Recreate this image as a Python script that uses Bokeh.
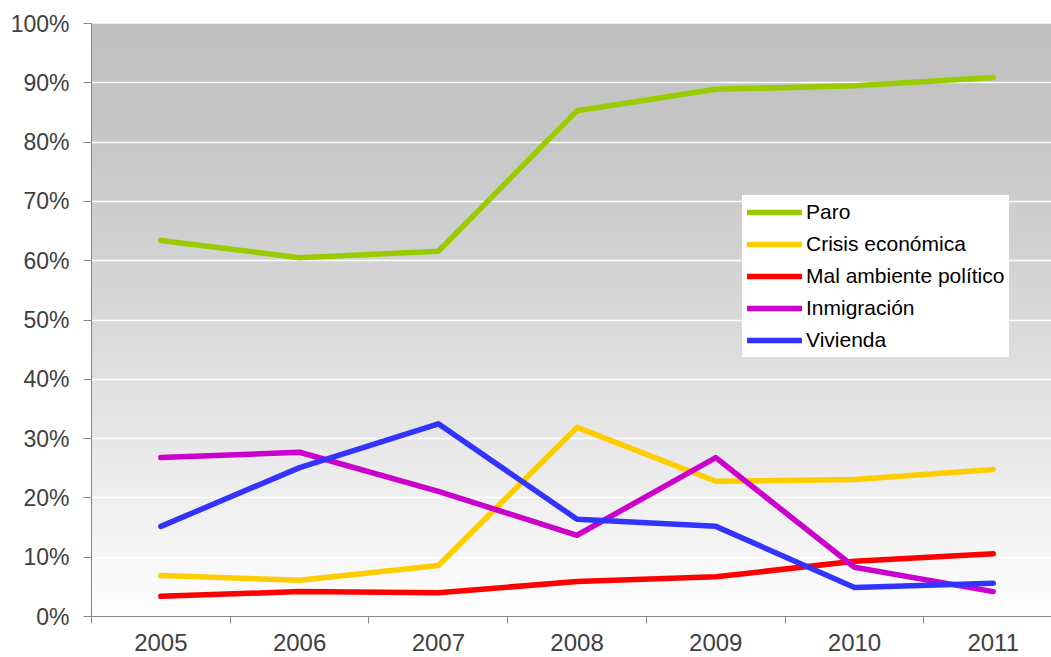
import numpy as np
from bokeh.plotting import figure
from bokeh.models import Range1d, FixedTicker, NumeralTickFormatter, Legend, LegendItem
from bokeh.embed import file_html
from bokeh.resources import INLINE

years = [2005, 2006, 2007, 2008, 2009, 2010, 2011]
paro = [63.4, 60.5, 61.6, 85.3, 88.9, 89.5, 90.9]
crisis = [6.9, 6.1, 8.6, 31.9, 22.8, 23.1, 24.8]
mal_ambiente = [3.4, 4.2, 4.0, 5.9, 6.7, 9.3, 10.6]
inmigracion = [26.8, 27.7, 21.1, 13.7, 26.8, 8.3, 4.2]
vivienda = [15.2, 25.1, 32.5, 16.4, 15.2, 4.9, 5.6]

series_names = ["Paro", "Crisis económica", "Mal ambiente político", "Inmigración", "Vivienda"]
series_values = [paro, crisis, mal_ambiente, inmigracion, vivienda]
series_colors = ["#99cc00", "#ffcc00", "#ff0000", "#cc00cc", "#3333ff"]
y_ticks = [0, 0.1, 0.2, 0.3, 0.4, 0.5, 0.6, 0.7, 0.8, 0.9, 1.0]

FONT = "Liberation Sans"
AX = "#868686"

x0 = years[0] - 0.5
p = figure(width=1051, height=657, output_backend="svg", toolbar_location=None,
           x_range=Range1d(x0, x0 + 6.92), y_range=Range1d(0, 1))
p.min_border_left = 91
p.min_border_right = 0
p.min_border_top = 23
p.min_border_bottom = 41
p.outline_line_color = None
p.background_fill_color = "white"
p.border_fill_color = "white"

# gradient background
N = 600
v = (np.arange(N) + 0.5) / N
t = 1 - v
g = np.clip(192 + 63 * t ** 1.3, 0, 255).astype(np.uint32)
img = np.zeros((N, 1), dtype=np.uint32)
view = img.view(dtype=np.uint8).reshape((N, 1, 4))
view[:, 0, 0] = g
view[:, 0, 1] = g
view[:, 0, 2] = g
view[:, 0, 3] = 255
r_img = p.image_rgba(image=[img], x=x0, y=0, dw=7, dh=1)
r_img.level = "image"

# grid
p.xgrid.visible = False
p.ygrid.ticker = FixedTicker(ticks=y_ticks)
p.ygrid.grid_line_color = "white"
p.ygrid.grid_line_width = 1.5

items = []
for name, vals, col in zip(series_names, series_values, series_colors):
    r = p.line(years, [x / 100 for x in vals], line_color=col, line_width=5.5,
               line_join="round", line_cap="round")
    items.append(LegendItem(label=name, renderers=[r]))

legend = Legend(items=items, location=(651, 259))
legend.background_fill_color = "white"
legend.background_fill_alpha = 1
legend.border_line_color = "white"
legend.border_line_width = 1
legend.label_text_font = FONT
legend.label_text_font_size = "21px"
legend.label_text_color = "black"
legend.glyph_width = 55
legend.glyph_height = 24
legend.label_height = 24
legend.label_standoff = 4
legend.spacing = 8
legend.padding = 4
legend.margin = 0
p.add_layout(legend, "center")

# x axis
xa = p.xaxis[0]
xa.ticker = FixedTicker(ticks=years, minor_ticks=[y - 0.5 for y in years] + [years[-1] + 0.5])
xa.major_tick_out = 0
xa.major_tick_in = 0
xa.minor_tick_out = 7
xa.minor_tick_in = 0
xa.minor_tick_line_color = AX
xa.axis_line_color = AX
xa.major_label_standoff = 10
xa.major_label_text_font = FONT
xa.major_label_text_font_size = "24px"
xa.major_label_text_color = "#404040"
xa.major_label_overrides = {y: str(y) for y in years}

# y axis
ya = p.yaxis[0]
ya.ticker = FixedTicker(ticks=y_ticks)
ya.formatter = NumeralTickFormatter(format="0%")
ya.major_tick_out = 8
ya.major_tick_in = 0
ya.minor_tick_out = 0
ya.minor_tick_in = 0
ya.major_tick_line_color = AX
ya.axis_line_color = AX
ya.major_label_standoff = 14
ya.major_label_text_font = FONT
ya.major_label_text_font_size = "23px"
ya.major_label_text_color = "#404040"

open("out.html", "w").write(file_html(p, INLINE))
